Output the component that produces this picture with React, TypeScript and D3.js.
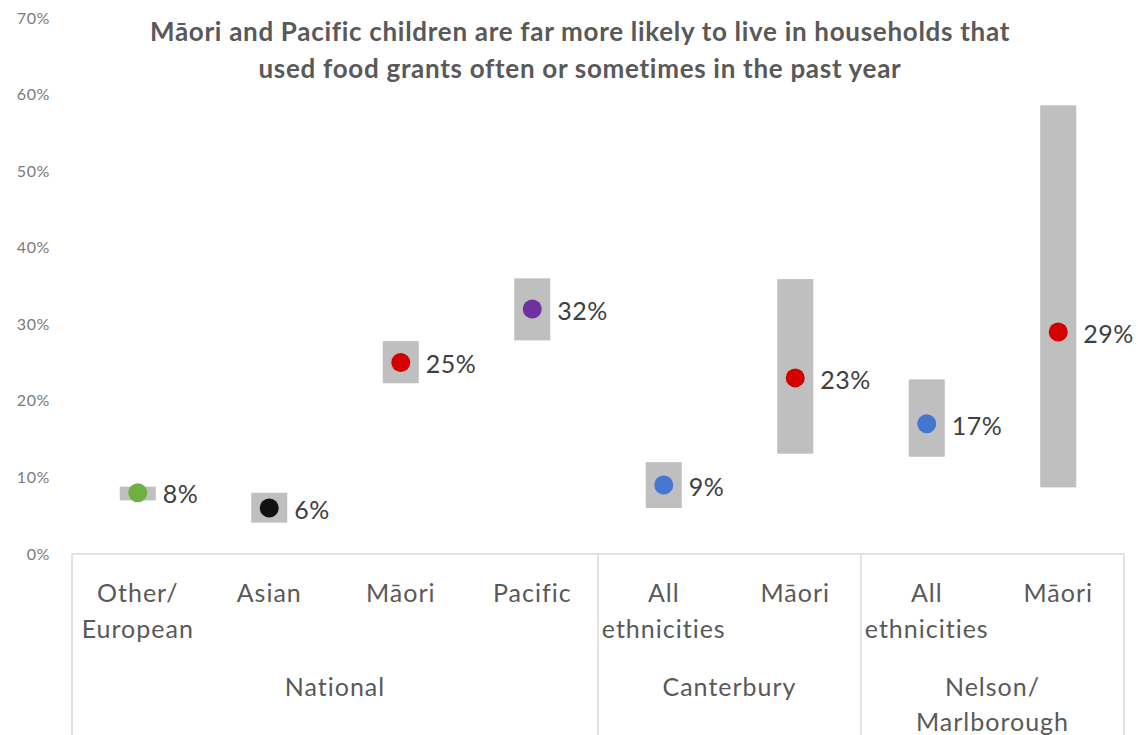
import React from "react";
import * as d3 from "d3";

const categories: string[][] = [
  ["Other/", "European"],
  ["Asian"],
  ["Māori"],
  ["Pacific"],
  ["All", "ethnicities"],
  ["Māori"],
  ["All", "ethnicities"],
  ["Māori"],
];
const groupNames: string[][] = [["National"], ["Canterbury"], ["Nelson/", "Marlborough"]];
const groupSizes: number[] = [4, 2, 2];
const values: number[] = [8, 6, 25, 32, 9, 23, 17, 29];
const lower: number[] = [7.0, 4.1, 22.3, 27.9, 6.0, 13.1, 12.7, 8.7];
const upper: number[] = [8.8, 8.0, 27.8, 36.0, 12.0, 35.9, 22.8, 58.6];
const dotColors: string[] = ["#6fb043", "#111111", "#d40000", "#7030a0", "#4477d0", "#d40000", "#4477d0", "#d40000"];
const yTicks: number[] = [0, 10, 20, 30, 40, 50, 60, 70];
const titleLines: string[] = [
  "Māori and Pacific children are far more likely to live in households that",
  "used food grants often or sometimes in the past year",
];

const W = 1138;
const H = 735;
const left = 72;
const right = 1124;
const base = 554;
const top = 18;
const FONT = "Lato, 'Open Sans', sans-serif";

export default function App() {
  const x = d3.scaleBand<number>().domain(d3.range(categories.length)).range([left, right]).padding(0);
  const y = d3.scaleLinear().domain([0, 70]).range([base, top]);
  const bw = 36;

  const dividers: number[] = [left];
  let acc = 0;
  groupSizes.forEach((s) => {
    acc += s;
    dividers.push(left + x.step() * acc);
  });

  let start = 0;
  const groupCenters = groupSizes.map((s) => {
    const c = left + x.step() * (start + s / 2);
    start += s;
    return c;
  });

  return (
    <svg width={W} height={H} style={{ position: "absolute", left: 0, top: 0, background: "#fff" }} fontFamily={FONT}>
      <rect x={0} y={0} width={W} height={H} fill="#fff" />
      {titleLines.map((t, i) => (
        <text key={i} x={580} y={41 + i * 37} textAnchor="middle" fontSize={26} fontWeight={700} fill="#595959" letterSpacing={0.7}>
          {t}
        </text>
      ))}
      {yTicks.map((t) => (
        <text key={t} x={50} y={y(t)} dy="0.35em" textAnchor="end" fontSize={16} fill="#7a7a7a" letterSpacing={0.6}>
          {t}%
        </text>
      ))}
      {/* axis box */}
      <line x1={left} x2={right} y1={base} y2={base} stroke="#d9d9d9" strokeWidth={1.5} />
      {dividers.map((d, i) => (
        <line key={i} x1={d} x2={d} y1={base} y2={H} stroke="#d9d9d9" strokeWidth={1.5} />
      ))}
      {/* CI bars */}
      {values.map((v, i) => (
        <rect
          key={"b" + i}
          x={(x(i) as number) + x.bandwidth() / 2 - bw / 2}
          y={y(upper[i])}
          width={bw}
          height={y(lower[i]) - y(upper[i])}
          fill="#bfbfbf"
        />
      ))}
      {values.map((v, i) => (
        <circle key={"c" + i} cx={(x(i) as number) + x.bandwidth() / 2} cy={y(v)} r={9.5} fill={dotColors[i]} />
      ))}
      {values.map((v, i) => (
        <text
          key={"l" + i}
          x={(x(i) as number) + x.bandwidth() / 2 + 25}
          y={y(v) + 2}
          dy="0.35em"
          fontSize={25}
          fill="#404040"
          letterSpacing={0.5}
        >
          {v}%
        </text>
      ))}
      {categories.map((lines, i) =>
        lines.map((ln, j) => (
          <text
            key={"cat" + i + j}
            x={(x(i) as number) + x.bandwidth() / 2}
            y={602 + j * 36}
            textAnchor="middle"
            fontSize={25}
            fill="#595959"
            letterSpacing={1}
          >
            {ln}
          </text>
        ))
      )}
      {groupNames.map((lines, i) =>
        lines.map((ln, j) => (
          <text key={"g" + i + j} x={groupCenters[i]} y={696 + j * 35} textAnchor="middle" fontSize={25} fill="#595959" letterSpacing={1}>
            {ln}
          </text>
        ))
      )}
    </svg>
  );
}
